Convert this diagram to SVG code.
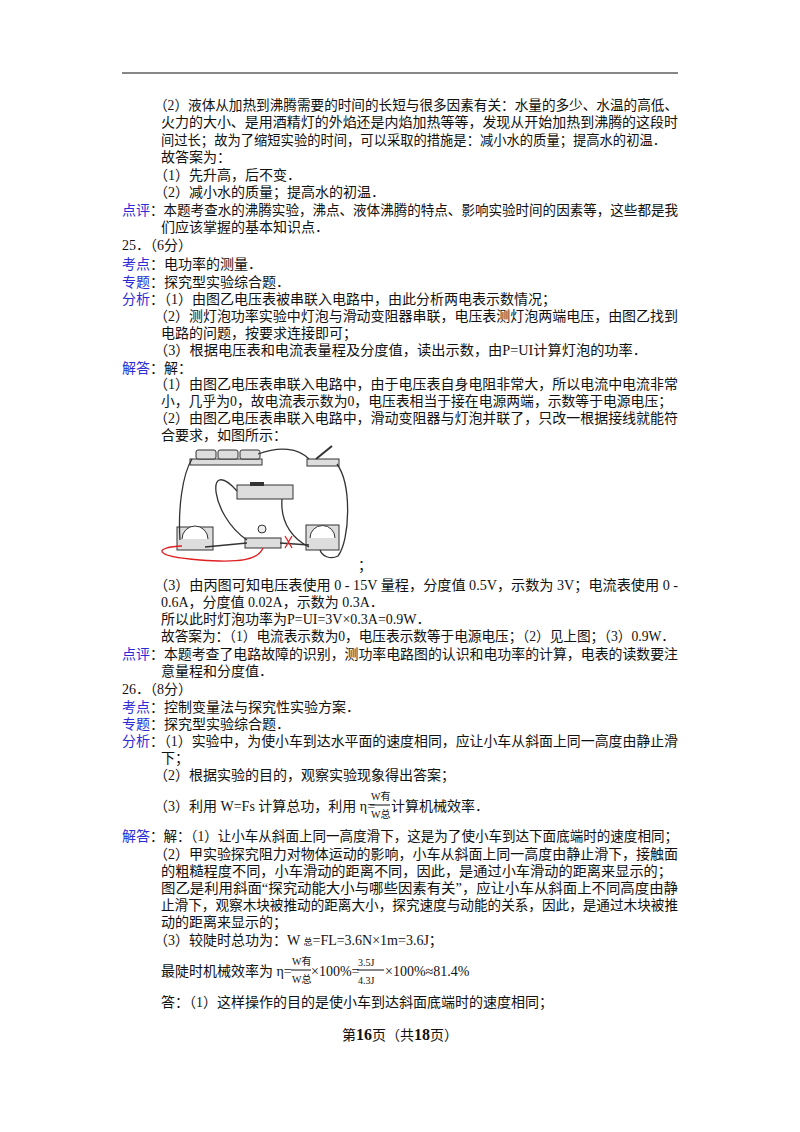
<svg xmlns="http://www.w3.org/2000/svg" width="800" height="1132" viewBox="0 0 800 1132">
<style>
text{font-family:"Liberation Serif","Noto Sans CJK SC",serif;font-size:14px;fill:#111}
.b{fill:#2b2bd6}
.w{fill:none;stroke:#333;stroke-width:1.3}
.r{fill:none;stroke:#e02020;stroke-width:1.3}
.d{fill:#ddd;stroke:#333;stroke-width:1}
.fr{font-size:10px}
</style>
<rect width="800" height="1132" fill="#fff"/>
<line x1="122" y1="73" x2="678" y2="73" stroke="#111" stroke-width="1"/>
<g id="text">
<text x="154" y="110" textLength="524" lengthAdjust="spacingAndGlyphs">（2）液体从加热到沸腾需要的时间的长短与很多因素有关：水量的多少、水温的高低、</text>
<text x="161" y="127" textLength="517" lengthAdjust="spacingAndGlyphs">火力的大小、是用酒精灯的外焰还是内焰加热等等，发现从开始加热到沸腾的这段时</text>
<text x="161" y="145" textLength="505" lengthAdjust="spacingAndGlyphs">间过长；故为了缩短实验的时间，可以采取的措施是：减小水的质量；提高水的初温．</text>
<text x="161" y="162">故答案为：</text>
<text x="154" y="180">（1）先升高，后不变．</text>
<text x="154" y="197">（2）减小水的质量；提高水的初温．</text>
<text x="122" y="215" class="b">点评</text><text x="150" y="215" textLength="528" lengthAdjust="spacingAndGlyphs">：本题考查水的沸腾实验，沸点、液体沸腾的特点、影响实验时间的因素等，这些都是我</text>
<text x="161" y="232">们应该掌握的基本知识点．</text>
<text x="122" y="250">25．（6分）</text>
<text x="122" y="269" class="b">考点</text><text x="150" y="269">：电功率的测量．</text>
<text x="122" y="287" class="b">专题</text><text x="150" y="287">：探究型实验综合题．</text>
<text x="122" y="304" class="b">分析</text><text x="150" y="304">：（1）由图乙电压表被串联入电路中，由此分析两电表示数情况；</text>
<text x="154" y="321" textLength="524" lengthAdjust="spacingAndGlyphs">（2）测灯泡功率实验中灯泡与滑动变阻器串联，电压表测灯泡两端电压，由图乙找到</text>
<text x="161" y="338">电路的问题，按要求连接即可；</text>
<text x="154" y="355" textLength="493" lengthAdjust="spacingAndGlyphs">（3）根据电压表和电流表量程及分度值，读出示数，由P=UI计算灯泡的功率．</text>
<text x="122" y="373" class="b">解答</text><text x="150" y="373">：解：</text>
<text x="154" y="389" textLength="524" lengthAdjust="spacingAndGlyphs">（1）由图乙电压表串联入电路中，由于电压表自身电阻非常大，所以电流中电流非常</text>
<text x="161" y="406" textLength="511" lengthAdjust="spacingAndGlyphs">小，几乎为0，故电流表示数为0，电压表相当于接在电源两端，示数等于电源电压；</text>
<text x="154" y="423" textLength="524" lengthAdjust="spacingAndGlyphs">（2）由图乙电压表串联入电路中，滑动变阻器与灯泡并联了，只改一根据接线就能符</text>
<text x="161" y="440">合要求，如图所示：</text>
<text x="358" y="570">；</text>
<text x="154" y="590" textLength="524" lengthAdjust="spacingAndGlyphs">（3）由丙图可知电压表使用 0 - 15V 量程，分度值 0.5V，示数为 3V；电流表使用 0 -</text>
<text x="161" y="607">0.6A，分度值 0.02A，示数为 0.3A．</text>
<text x="161" y="624">所以此时灯泡功率为P=UI=3V×0.3A=0.9W．</text>
<text x="161" y="641" textLength="514" lengthAdjust="spacingAndGlyphs">故答案为：（1）电流表示数为0，电压表示数等于电源电压；（2）见上图；（3）0.9W．</text>
<text x="122" y="659" class="b">点评</text><text x="150" y="659" textLength="528" lengthAdjust="spacingAndGlyphs">：本题考查了电路故障的识别，测功率电路图的认识和电功率的计算，电表的读数要注</text>
<text x="161" y="676">意量程和分度值．</text>
<text x="122" y="694">26．（8分）</text>
<text x="122" y="712" class="b">考点</text><text x="150" y="712">：控制变量法与探究性实验方案．</text>
<text x="122" y="729" class="b">专题</text><text x="150" y="729">：探究型实验综合题．</text>
<text x="122" y="746" class="b">分析</text><text x="150" y="746" textLength="528" lengthAdjust="spacingAndGlyphs">：（1）实验中，为使小车到达水平面的速度相同，应让小车从斜面上同一高度由静止滑</text>
<text x="161" y="763">下；</text>
<text x="154" y="780">（2）根据实验的目的，观察实验现象得出答案；</text>
<text x="154" y="811">（3）利用 W=Fs 计算总功，利用 η=</text>
<text x="371" y="800" class="fr">W有</text><line x1="370" y1="805" x2="390" y2="805" stroke="#111"/><text x="371" y="818" class="fr">W总</text>
<text x="391" y="811">计算机械效率．</text>
<text x="122" y="841" class="b">解答</text><text x="150" y="841" textLength="528" lengthAdjust="spacingAndGlyphs">：解：（1）让小车从斜面上同一高度滑下，这是为了使小车到达下面底端时的速度相同；</text>
<text x="154" y="859" textLength="524" lengthAdjust="spacingAndGlyphs">（2）甲实验探究阻力对物体运动的影响，小车从斜面上同一高度由静止滑下，接触面</text>
<text x="161" y="876" textLength="511" lengthAdjust="spacingAndGlyphs">的粗糙程度不同，小车滑动的距离不同，因此，是通过小车滑动的距离来显示的；</text>
<text x="161" y="893" textLength="517" lengthAdjust="spacingAndGlyphs">图乙是利用斜面“探究动能大小与哪些因素有关”，应让小车从斜面上不同高度由静</text>
<text x="161" y="910" textLength="517" lengthAdjust="spacingAndGlyphs">止滑下，观察木块被推动的距离大小，探究速度与动能的关系，因此，是通过木块被推</text>
<text x="161" y="927">动的距离来显示的；</text>
<text x="154" y="945">（3）较陡时总功为：W <tspan font-size="9">总</tspan>=FL=3.6N×1m=3.6J；</text>
<text x="161" y="976">最陡时机械效率为 η=</text>
<text x="292" y="965" class="fr">W有</text><line x1="291" y1="970" x2="311" y2="970" stroke="#111"/><text x="292" y="983" class="fr">W总</text>
<text x="311" y="976">×100%=</text>
<text x="358" y="966" class="fr" font-family="Liberation Mono,monospace">3.5J</text><line x1="357" y1="970" x2="384" y2="970" stroke="#111"/><text x="358" y="984" class="fr" font-family="Liberation Mono,monospace">4.3J</text>
<text x="385" y="976">×100%≈81.4%</text>
<text x="161" y="1007">答：（1）这样操作的目的是使小车到达斜面底端时的速度相同；</text>
<text x="400" y="1040" text-anchor="middle">第<tspan font-weight="bold" font-size="16">16</tspan>页（共<tspan font-weight="bold" font-size="16">18</tspan>页）</text>
</g>
<g id="circuit">
<g id="battery"><rect x="190" y="459" width="72" height="6" class="d"/><rect x="196" y="450" width="20" height="9" rx="2" class="d"/><rect x="218" y="450" width="20" height="9" rx="2" class="d"/><rect x="240" y="450" width="20" height="9" rx="2" class="d"/></g>
<g id="switch"><rect x="307" y="459" width="32" height="7" class="d"/><line x1="316" y1="459" x2="332" y2="446" stroke="#333" stroke-width="2"/></g>
<g id="rheostat"><rect x="237" y="485" width="56" height="14" class="d"/><rect x="250" y="482" width="14" height="4" fill="#333"/></g>
<g id="voltmeter"><rect x="177" y="527" width="36" height="23" class="d"/><path d="M182 539 A13 13 0 0 1 208 539" fill="#fff" stroke="#333"/></g>
<g id="lamp"><rect x="245" y="538" width="36" height="10" class="d"/><circle cx="262" cy="529" r="4" fill="#eee" stroke="#333"/></g>
<g id="ammeter"><rect x="306" y="525" width="33" height="25" class="d"/><path d="M310 538 A12 12 0 0 1 335 538" fill="#fff" stroke="#333"/></g>
<g id="wires">
<path class="w" d="M192 459 C182 475 178 510 180 540"/>
<path class="w" d="M258 454 C280 446 298 448 309 459"/>
<path class="w" d="M337 464 C352 485 350 540 338 556 C330 560 322 556 320 550"/>
<path class="w" d="M205 547 L247 543"/>
<path class="w" d="M237 491 C205 455 210 515 247 540"/>
<path class="w" d="M282 499 C280 525 295 540 309 547"/>
<path class="w" d="M280 543 L309 545"/>
<path class="r" d="M182 546 C155 547 150 556 200 560 C240 563 258 560 263 548"/>
<path class="r" d="M285 536 L292 548 M292 536 L285 548"/>
</g>
</g>
</svg>
